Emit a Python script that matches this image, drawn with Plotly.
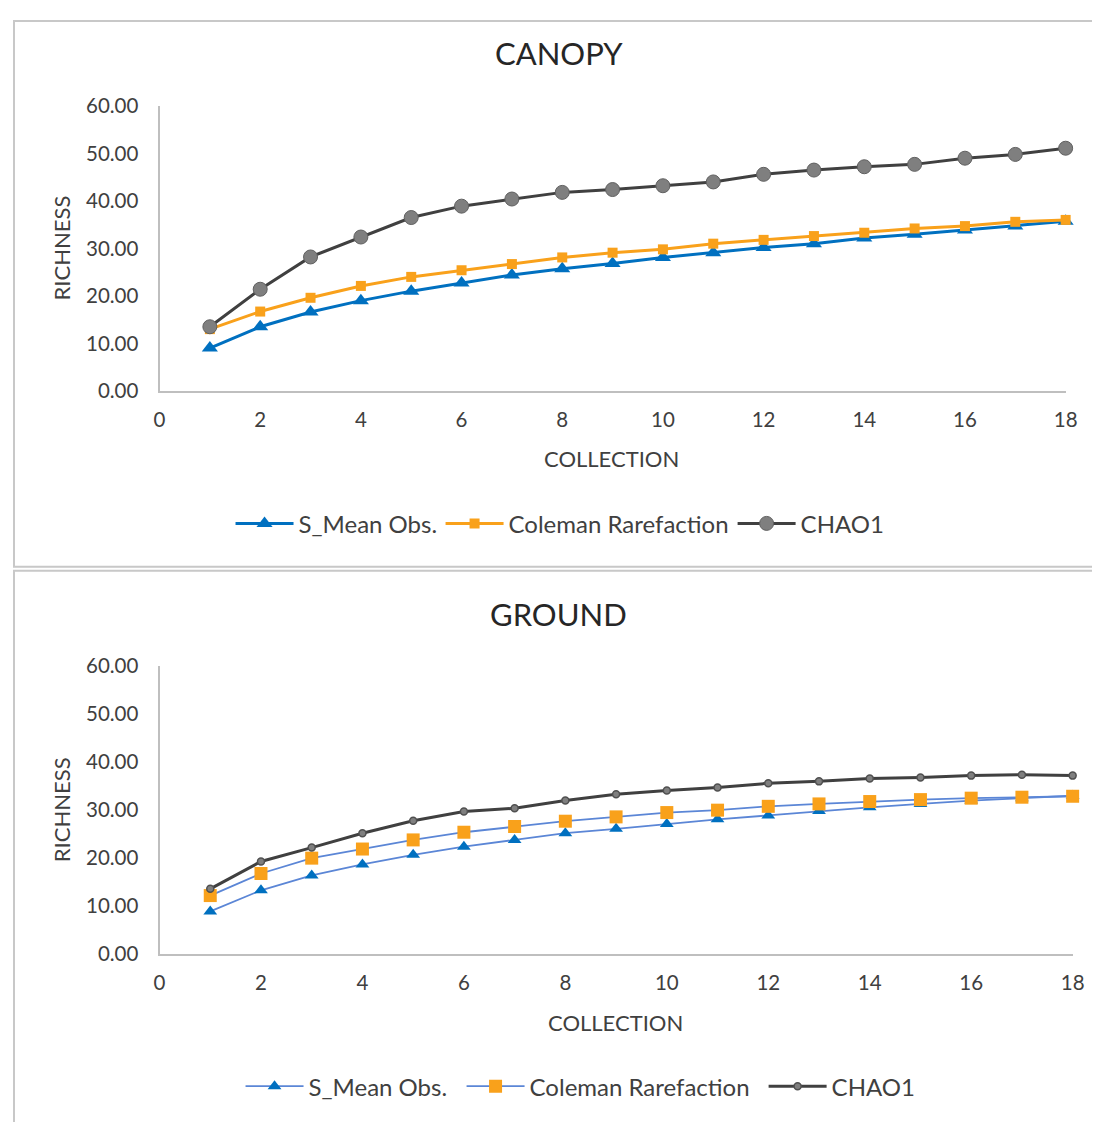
import plotly.graph_objects as go

collection = list(range(1, 19))

canopy_s_mean = [9.0, 13.5, 16.6, 19.0, 21.0, 22.7, 24.4, 25.7, 26.8, 28.1, 29.1, 30.2, 31.0, 32.2, 33.0, 33.9, 34.7, 35.7]
canopy_coleman = [13.0, 16.7, 19.6, 22.1, 24.0, 25.4, 26.7, 28.1, 29.1, 29.8, 31.0, 31.8, 32.6, 33.3, 34.2, 34.7, 35.6, 36.0]
canopy_chao1 = [13.5, 21.4, 28.2, 32.4, 36.5, 38.9, 40.4, 41.8, 42.4, 43.2, 44.0, 45.6, 46.5, 47.2, 47.7, 49.0, 49.8, 51.1]

ground_s_mean = [8.8, 13.2, 16.3, 18.6, 20.6, 22.3, 23.7, 25.1, 26.0, 27.0, 28.0, 28.8, 29.7, 30.5, 31.2, 31.9, 32.4, 32.9]
ground_coleman = [12.1, 16.7, 19.9, 21.8, 23.7, 25.3, 26.5, 27.6, 28.5, 29.4, 29.9, 30.7, 31.2, 31.7, 32.1, 32.4, 32.6, 32.8]
ground_chao1 = [13.5, 19.2, 22.1, 25.1, 27.7, 29.6, 30.3, 31.9, 33.2, 34.0, 34.6, 35.5, 35.9, 36.5, 36.7, 37.1, 37.3, 37.1]

x_ticks = [0, 2, 4, 6, 8, 10, 12, 14, 16, 18]
y_ticks = [0, 10, 20, 30, 40, 50, 60]
y_tick_labels = ["0.00", "10.00", "20.00", "30.00", "40.00", "50.00", "60.00"]

W, H = 1100, 1122
FONT = "Lato"
TXT = "#404040"
AX = "#BFBFBF"

BLUE = "#0070C0"
ORANGE = "#F9A11B"
DARK = "#404040"
GRAY = "#7F7F7F"
LBLUE = "#5B86D6"


def px(x):
    return max(0.0, (x - 14.5) / 0.9835) / W


def py(y):
    return 1 - max(0.0, (y - 20.0) / 0.979) / H


fig = go.Figure()

# Canopy
fig.add_trace(go.Scatter(x=collection, y=canopy_s_mean, name="S_Mean Obs.", mode="lines+markers",
                         line=dict(color=BLUE, width=3), marker=dict(symbol="triangle-up", size=14, color=BLUE),
                         xaxis="x", yaxis="y", legend="legend", showlegend=True, cliponaxis=False))
fig.add_trace(go.Scatter(x=collection, y=canopy_coleman, name="Coleman Rarefaction", mode="lines+markers",
                         line=dict(color=ORANGE, width=3), marker=dict(symbol="square", size=10, color=ORANGE),
                         xaxis="x", yaxis="y", legend="legend2", showlegend=True, cliponaxis=False))
fig.add_trace(go.Scatter(x=collection, y=canopy_chao1, name="CHAO1", mode="lines+markers",
                         line=dict(color=DARK, width=3),
                         marker=dict(symbol="circle", size=14, color=GRAY, line=dict(color="#606060", width=1)),
                         xaxis="x", yaxis="y", legend="legend3", showlegend=True, cliponaxis=False))

# Ground
fig.add_trace(go.Scatter(x=collection, y=ground_s_mean, name="S_Mean Obs.", mode="lines+markers",
                         line=dict(color=LBLUE, width=1.8), marker=dict(symbol="triangle-up", size=12, color=BLUE),
                         xaxis="x2", yaxis="y2", legend="legend4", showlegend=True, cliponaxis=False))
fig.add_trace(go.Scatter(x=collection, y=ground_coleman, name="Coleman Rarefaction", mode="lines+markers",
                         line=dict(color=LBLUE, width=1.8), marker=dict(symbol="square", size=13, color=ORANGE),
                         xaxis="x2", yaxis="y2", legend="legend5", showlegend=True, cliponaxis=False))
fig.add_trace(go.Scatter(x=collection, y=ground_chao1, name="CHAO1", mode="lines+markers",
                         line=dict(color=DARK, width=3),
                         marker=dict(symbol="circle", size=7, color=GRAY, line=dict(color="#505050", width=1.5)),
                         xaxis="x2", yaxis="y2", legend="legend6", showlegend=True, cliponaxis=False))

axis_common = dict(showgrid=False, zeroline=False, showline=True, linecolor=AX, linewidth=2,
                   ticks="outside", tickcolor="rgba(0,0,0,0)",
                   tickfont=dict(family=FONT, size=20.5, color=TXT))


def leg(text_left, y_center):
    return dict(orientation="h", x=px(text_left - 66), xanchor="left", y=py(y_center), yanchor="middle",
                font=dict(family=FONT, size=24, color=TXT), bgcolor="rgba(0,0,0,0)", itemwidth=58)


fig.update_layout(
    width=W, height=H,
    showlegend=True,
    margin=dict(l=0, r=0, t=0, b=0),
    paper_bgcolor="white", plot_bgcolor="white",
    font=dict(family=FONT, color=TXT),
    xaxis=dict(domain=[px(160), px(1066)], range=[0, 18], tickvals=x_ticks, anchor="y", ticklen=10, **axis_common),
    yaxis=dict(domain=[py(390), py(105)], range=[0, 60], tickvals=y_ticks, ticktext=y_tick_labels,
               anchor="x", ticklen=15, **axis_common),
    xaxis2=dict(domain=[px(160), px(1073)], range=[0, 18], tickvals=x_ticks, anchor="y2", ticklen=10, **axis_common),
    yaxis2=dict(domain=[py(953), py(665)], range=[0, 60], tickvals=y_ticks, ticktext=y_tick_labels,
                anchor="x2", ticklen=15, **axis_common),
    legend=leg(297, 523),
    legend2=leg(507, 523),
    legend3=leg(799, 523),
    legend4=leg(307, 1086),
    legend5=leg(528, 1086),
    legend6=leg(830, 1086),
    shapes=[
        dict(type="rect", xref="paper", yref="paper", x0=px(9), x1=1.01, y0=py(566), y1=py(9),
             line=dict(color="#C8C8C8", width=2)),
        dict(type="rect", xref="paper", yref="paper", x0=px(9), x1=1.01, y0=-0.01, y1=py(570),
             line=dict(color="#C8C8C8", width=2)),
    ],
    annotations=[
        dict(text="CANOPY", x=px(559), y=py(52), xref="paper", yref="paper", showarrow=False,
             xanchor="center", yanchor="middle", font=dict(family=FONT, size=31, color="#262626")),
        dict(text="GROUND", x=px(559), y=py(613), xref="paper", yref="paper", showarrow=False,
             xanchor="center", yanchor="middle", font=dict(family=FONT, size=31, color="#262626")),
        dict(text="RICHNESS", x=px(62), y=py(247), xref="paper", yref="paper", showarrow=False, textangle=-90,
             xanchor="center", yanchor="middle", font=dict(family=FONT, size=22, color=TXT)),
        dict(text="RICHNESS", x=px(62), y=py(809), xref="paper", yref="paper", showarrow=False, textangle=-90,
             xanchor="center", yanchor="middle", font=dict(family=FONT, size=22, color=TXT)),
        dict(text="COLLECTION", x=px(612), y=py(458), xref="paper", yref="paper", showarrow=False,
             xanchor="center", yanchor="middle", font=dict(family=FONT, size=22, color=TXT)),
        dict(text="COLLECTION", x=px(616), y=py(1022), xref="paper", yref="paper", showarrow=False,
             xanchor="center", yanchor="middle", font=dict(family=FONT, size=22, color=TXT)),
    ],
)

fig.write_html("out.html")
